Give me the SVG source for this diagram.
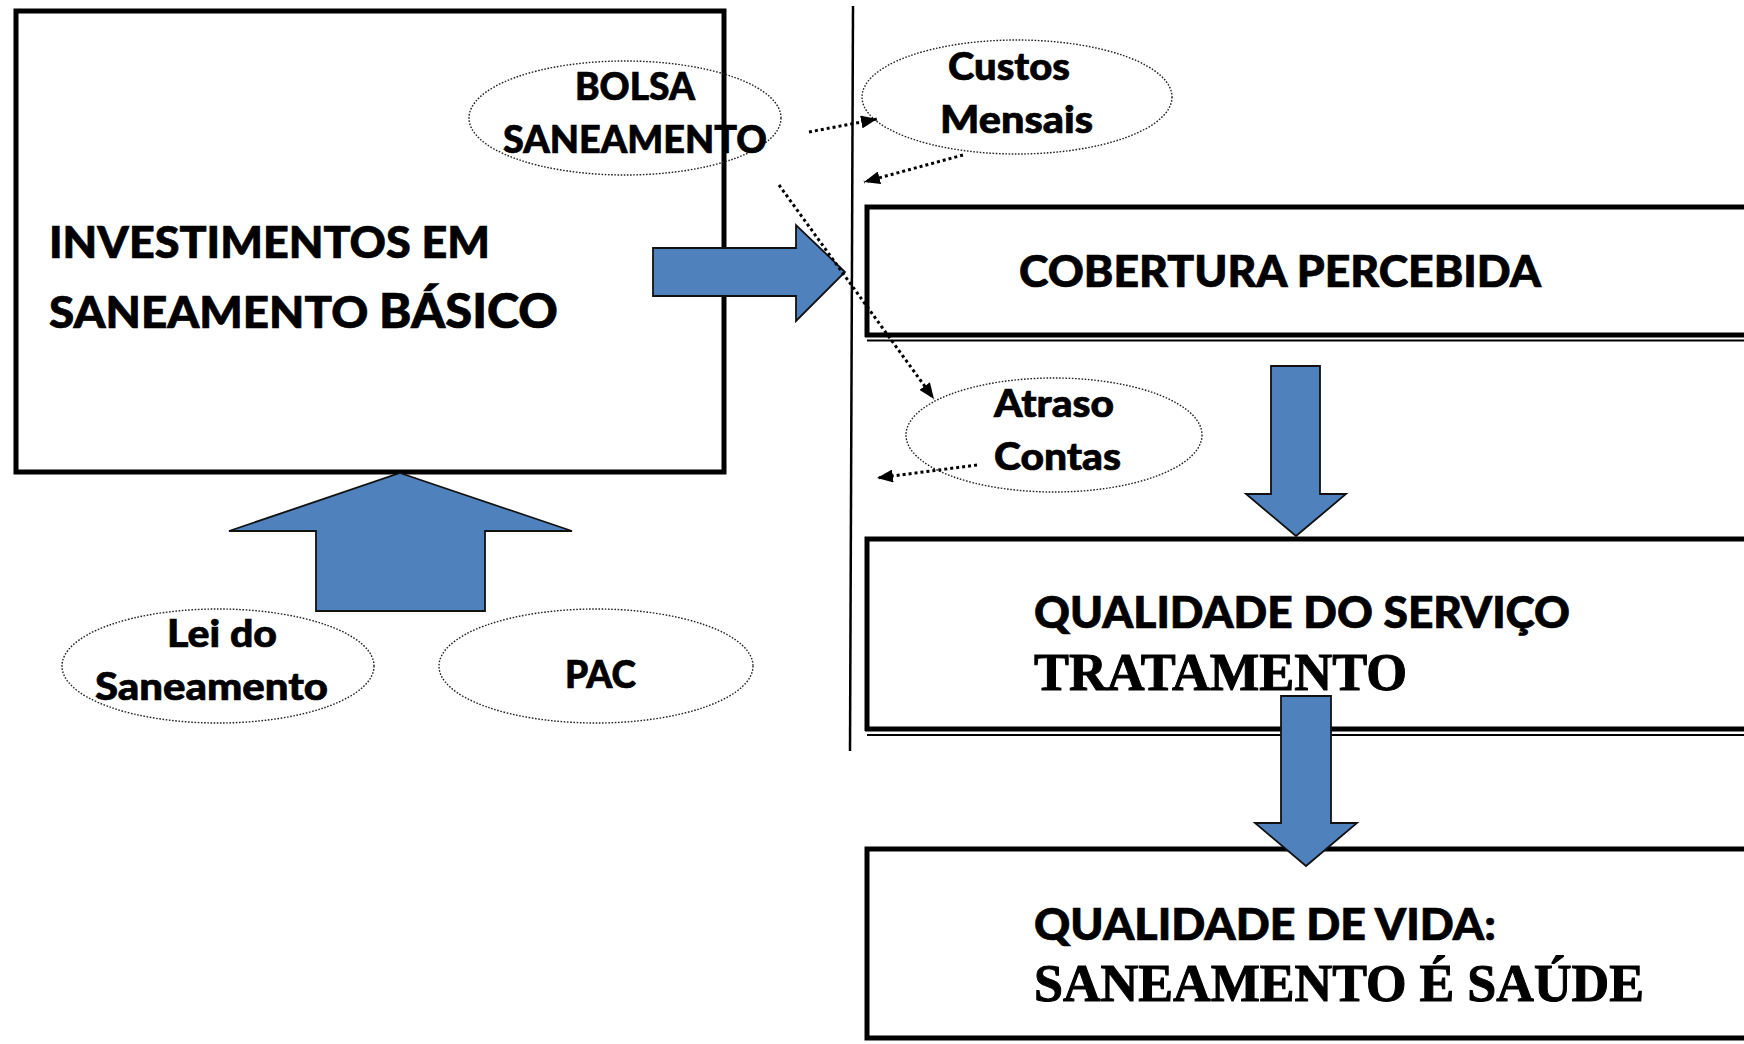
<svg xmlns="http://www.w3.org/2000/svg" width="1744" height="1044" viewBox="0 0 1744 1044">
<defs>
<style>
.cal{font-family:Lato,"Liberation Sans",sans-serif;font-weight:900;fill:#000;stroke:#000;stroke-width:0.7}
.tim{font-family:"Liberation Serif",serif;font-weight:bold;fill:#000;stroke:#000;stroke-width:1}
.box{fill:none;stroke:#000;stroke-width:5}
.oval{fill:none;stroke:#222;stroke-width:1.4;stroke-dasharray:1.6 1.6}
.blue{fill:#4F81BD;stroke:#111;stroke-width:1.8;stroke-linejoin:miter}
.dot{fill:none;stroke:#000;stroke-width:3;stroke-dasharray:3 3}
</style>
<marker id="ah" viewBox="0 0 10 10" refX="10" refY="5" markerWidth="16" markerHeight="13" markerUnits="userSpaceOnUse" orient="auto" preserveAspectRatio="none">
<path d="M0,0 L10,5 L0,10 z" fill="#000"/>
</marker>
</defs>
<rect width="1744" height="1044" fill="#fff"/>

<g id="divider">
<line x1="853" y1="6" x2="850" y2="751" stroke="#000" stroke-width="2.5"/>
</g>

<g id="investimentos">
<rect class="box" x="16" y="11" width="708" height="461"/>
<text class="cal" x="49" y="258" font-size="44" textLength="441" lengthAdjust="spacingAndGlyphs">INVESTIMENTOS EM</text>
<text class="cal" x="49" y="328" font-size="44" textLength="509" lengthAdjust="spacingAndGlyphs">SANEAMENTO <tspan font-size="47">BÁSICO</tspan></text>
</g>

<g id="cobertura">
<path class="box" d="M1750,207 H867 V337"/>
<line x1="865" y1="335" x2="1750" y2="335" stroke="#000" stroke-width="5"/>
<line x1="867" y1="340.5" x2="1750" y2="340.5" stroke="#000" stroke-width="2"/>
<text class="cal" x="1019" y="287" font-size="44" textLength="522" lengthAdjust="spacingAndGlyphs">COBERTURA PERCEBIDA</text>
</g>

<g id="qualidade-servico">
<path class="box" d="M1750,539 H867 V731"/>
<line x1="865" y1="729" x2="1750" y2="729" stroke="#000" stroke-width="5"/>
<line x1="867" y1="735" x2="1750" y2="735" stroke="#000" stroke-width="2"/>
<text class="cal" x="1034" y="628" font-size="43" textLength="536" lengthAdjust="spacingAndGlyphs">QUALIDADE DO SERVIÇO</text>
<text class="tim" x="1034" y="690" font-size="53" textLength="373" lengthAdjust="spacingAndGlyphs">TRATAMENTO</text>
</g>

<g id="qualidade-vida">
<path class="box" d="M1750,849 H867 V1038 H1750"/>
<text class="cal" x="1034" y="940" font-size="44" textLength="462" lengthAdjust="spacingAndGlyphs">QUALIDADE DE VIDA:</text>
<text class="tim" x="1034" y="1001" font-size="53" textLength="610" lengthAdjust="spacingAndGlyphs">SANEAMENTO É SAÚDE</text>
</g>

<g id="bolsa">
<ellipse class="oval" cx="625" cy="118" rx="156" ry="57"/>
<text class="cal" x="575" y="100" font-size="38" textLength="120" lengthAdjust="spacingAndGlyphs">BOLSA</text>
<text class="cal" x="503" y="153" font-size="38" textLength="264" lengthAdjust="spacingAndGlyphs">SANEAMENTO</text>
</g>

<g id="custos">
<ellipse class="oval" cx="1017" cy="97" rx="155" ry="57"/>
<text class="cal" x="948" y="80" font-size="38" textLength="122" lengthAdjust="spacingAndGlyphs">Custos</text>
<text class="cal" x="940" y="133" font-size="38" textLength="153" lengthAdjust="spacingAndGlyphs">Mensais</text>
</g>

<g id="atraso">
<ellipse class="oval" cx="1054" cy="435" rx="148" ry="57"/>
<text class="cal" x="994" y="417" font-size="38" textLength="120" lengthAdjust="spacingAndGlyphs">Atraso</text>
<text class="cal" x="994" y="470" font-size="38" textLength="127" lengthAdjust="spacingAndGlyphs">Contas</text>
</g>

<g id="lei">
<ellipse class="oval" cx="218" cy="666" rx="156" ry="57"/>
<text class="cal" x="167" y="647" font-size="38" textLength="110" lengthAdjust="spacingAndGlyphs">Lei do</text>
<text class="cal" x="95" y="700" font-size="38" textLength="233" lengthAdjust="spacingAndGlyphs">Saneamento</text>
</g>

<g id="pac">
<ellipse class="oval" cx="596" cy="666" rx="157" ry="57"/>
<text class="cal" x="565" y="688" font-size="38" textLength="71" lengthAdjust="spacingAndGlyphs">PAC</text>
</g>

<g id="connectors">
<polygon class="blue" points="653,248 796,248 796,225 845,272 796,321 796,296 653,296"/>
<polygon class="blue" points="400,473 572,531 485,531 485,611 316,611 316,531 229,531"/>
<polygon class="blue" points="1271,366 1320,366 1320,494 1346,494 1296,536 1246,494 1271,494"/>
<polygon class="blue" points="1281,696 1331,696 1331,823 1357,823 1306,866 1255,823 1281,823"/>
<path class="dot" d="M809,132 L877,119" marker-end="url(#ah)"/>
<path class="dot" d="M963,155 L864,182" marker-end="url(#ah)"/>
<path class="dot" d="M779,185 L934,399" marker-end="url(#ah)"/>
<path class="dot" d="M977,465 L877,478" marker-end="url(#ah)"/>
</g>
</svg>
